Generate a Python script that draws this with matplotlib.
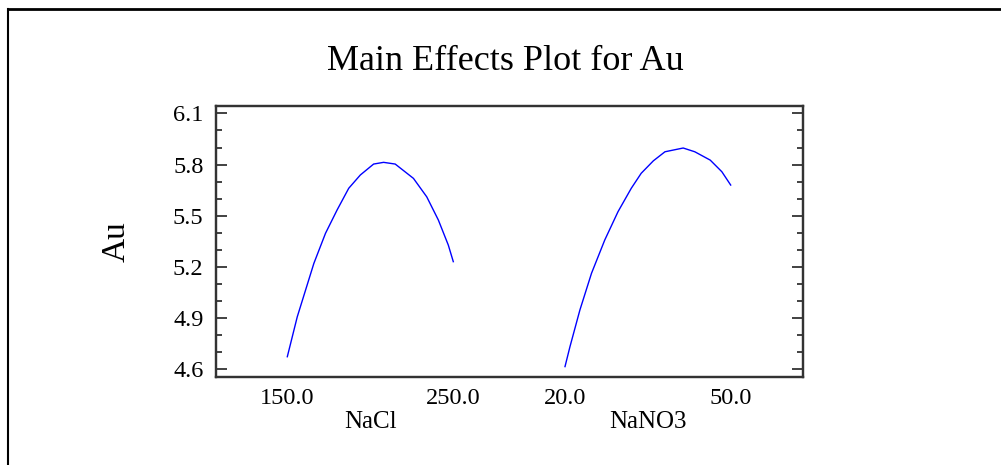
import matplotlib
matplotlib.use("Agg")
from matplotlib import pyplot as plt
from matplotlib.lines import Line2D
import matplotlib.ticker as mtick
import matplotlib.transforms as mtrans

plt.rcParams['font.family'] = ['Liberation Serif', 'DejaVu Serif']

# values
nacl = [150, 156, 166, 173, 180, 187, 194, 202, 208, 215, 226, 234, 241, 247, 250]
au_nacl = [4.674, 4.908, 5.221, 5.397, 5.534, 5.661, 5.739, 5.803, 5.813,
           5.803, 5.719, 5.611, 5.475, 5.328, 5.231]
nano3 = [20.0, 20.9, 22.7, 24.8, 27.2, 29.6, 32.0, 33.8, 36.0, 38.1, 41.4,
         43.5, 46.3, 48.4, 50.0]
au_nano3 = [4.616, 4.733, 4.948, 5.163, 5.358, 5.524, 5.661, 5.749, 5.822,
            5.875, 5.897, 5.875, 5.826, 5.758, 5.680]
nacl_ticks = [150.0, 250.0]
nano3_ticks = [20.0, 50.0]
yticks = [4.6, 4.9, 5.2, 5.5, 5.8, 6.1]

fig = plt.figure(figsize=(10.01, 4.65), dpi=100)
ax = fig.add_axes([0.2158, 0.1892, 0.5861, 0.5835])
ax2 = ax.twiny()

ax.plot(nacl, au_nacl, color='#0000ff', lw=1.0)
ax2.plot(nano3, au_nano3, color='#0000ff', lw=1.0)

ax.set_xlim(107.05, 460.5)
ax2.set_xlim(-43.19, 63.04)
ax.set_ylim(4.555, 6.145)

ax.set_yticks(yticks)
ax.yaxis.set_minor_locator(mtick.MultipleLocator(0.1))
ax.yaxis.set_major_formatter(mtick.FormatStrFormatter('%.1f'))
ax.tick_params(axis='y', which='both', direction='in', left=True, right=True,
               labelsize=17.5, pad=9, width=1.3, color='#333333')
ax.tick_params(axis='y', which='major', length=8)
ax.tick_params(axis='y', which='minor', length=4)

ax.set_xticks(nacl_ticks)
ax.set_xticklabels(['%.1f' % t for t in nacl_ticks])
ax.tick_params(axis='x', length=0, labelsize=17.5, pad=8)

ax2.xaxis.set_ticks_position('bottom')
ax2.set_xticks(nano3_ticks)
ax2.set_xticklabels(['%.1f' % t for t in nano3_ticks])
ax2.tick_params(axis='x', length=0, labelsize=17.5, pad=8)

for a in (ax, ax2):
    for s in a.spines.values():
        s.set_linewidth(1.6)
        s.set_color('#333333')

tr = mtrans.blended_transform_factory(ax.transData, ax.transAxes)
ax.text(200, -0.165, 'NaCl', transform=tr, ha='center', va='center', fontsize=18)
tr2 = mtrans.blended_transform_factory(ax2.transData, ax2.transAxes)
ax2.text(35, -0.165, 'NaNO3', transform=tr2, ha='center', va='center', fontsize=18)

ax.text(-0.170, 0.5, 'Au', transform=ax.transAxes, rotation=90,
        ha='center', va='center', fontsize=24)

fig.text(505.5 / 1001, 1 - 62 / 465, 'Main Effects Plot for Au',
         ha='center', va='center', fontsize=26)

# outer frame (top and left edges)
fig.add_artist(Line2D([8 / 1001, 1], [1 - 9 / 465, 1 - 9 / 465],
                      transform=fig.transFigure, color='black', lw=2))
fig.add_artist(Line2D([8 / 1001, 8 / 1001], [0, 1 - 9 / 465],
                      transform=fig.transFigure, color='black', lw=1.5))

fig.savefig('out.png', dpi=100)
